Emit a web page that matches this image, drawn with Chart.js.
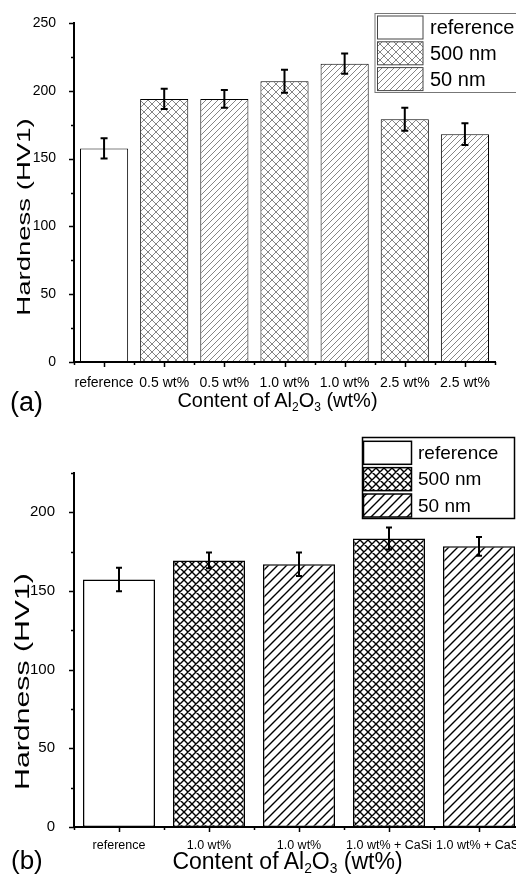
<!DOCTYPE html>
<html>
<head>
<meta charset="utf-8">
<script src="https://cdn.jsdelivr.net/npm/chart.js@4.4.1/dist/chart.umd.min.js"></script>
<style>
    body { margin: 0; width: 516px; height: 884px; overflow: hidden; position: relative; background: #fff; font-family: "Liberation Sans", Arial, sans-serif; }
    canvas { position: absolute; left: 0; }
    .lbl { position: absolute; line-height: 1; white-space: nowrap; color: #000; }
    .ytitle { width: 300px; text-align: center; }
    .xtitle { width: 400px; text-align: center; }
    .xtitle sub { font-size: 0.6em; vertical-align: -0.3em; line-height: 0; }
</style>
</head>
<body>
<canvas id="chartA" width="540" height="440" style="top:0px"></canvas>
<canvas id="chartB" width="560" height="464" style="top:420px"></canvas>

<div class="lbl ytitle" style="left:-126.5px; top:208px; font-size:18px; transform:rotate(-90deg) scaleX(1.53)">Hardness (HV1)</div>
<div class="lbl xtitle" style="left:77.5px; top:390px; font-size:20px">Content of Al<sub>2</sub>O<sub>3</sub> (wt%)</div>
<div class="lbl" style="left:10px; top:389px; font-size:27px">(a)</div>

<div class="lbl ytitle" style="left:-129.5px; top:670.5px; font-size:21px; transform:rotate(-90deg) scaleX(1.44)">Hardness (HV1)</div>
<div class="lbl xtitle" style="left:87.5px; top:850px; font-size:23px">Content of Al<sub>2</sub>O<sub>3</sub> (wt%)</div>
<div class="lbl" style="left:11px; top:847px; font-size:26px">(b)</div>

<script>
// Panel (a)
var labelsA = ['reference', '0.5 wt%', '0.5 wt%', '1.0 wt%', '1.0 wt%', '2.5 wt%', '2.5 wt%'];
var refA      = [157.5, null, null, null, null, null, null];
var nm500A    = [null, 194, null, 207, null, 179, null];
var nm50A     = [null, null, 194, null, 220, null, 168];
var refErrA   = [7.5, 0, 0, 0, 0, 0, 0];
var nm500ErrA = [0, 7.5, 0, 8.5, 0, 8.5, 0];
var nm50ErrA  = [0, 0, 6.5, 0, 7.5, 0, 8];
var yMaxA = 250;

// Panel (b)
var labelsB = ['reference', '1.0 wt%', '1.0 wt%', '1.0 wt% + CaSi', '1.0 wt% + CaSi'];
var refB      = [157.3, null, null, null, null];
var nm500B    = [null, 169.4, null, 183.3, null];
var nm50B     = [null, null, 167, null, 178.4];
var refErrB   = [7.5, 0, 0, 0, 0];
var nm500ErrB = [0, 5, 0, 7, 0];
var nm50ErrB  = [0, 0, 7.5, 0, 6];
var yMaxB = 225;

var seriesNames = ['reference', '500 nm', '50 nm'];
var yStep = 25;      // minor tick step
var yLabelStep = 50; // labelled ticks

Chart.defaults.font.family = '"Liberation Sans", Arial, sans-serif';
Chart.defaults.color = '#000';

// hatch fill: "/" lines, optionally crossed with "\" lines
function makeHatch(size, color, width, cross) {
    var c = document.createElement('canvas');
    c.width = size;
    c.height = size;
    var g = c.getContext('2d');
    g.fillStyle = '#fff';
    g.fillRect(0, 0, size, size);
    g.strokeStyle = color;
    g.lineWidth = width;
    g.beginPath();
    g.moveTo(0, size); g.lineTo(size, 0);
    g.moveTo(-2, 2); g.lineTo(2, -2);
    g.moveTo(size - 2, size + 2); g.lineTo(size + 2, size - 2);
    if (cross) {
        g.moveTo(0, 0); g.lineTo(size, size);
        g.moveTo(-2, size - 2); g.lineTo(2, size + 2);
        g.moveTo(size - 2, -2); g.lineTo(size + 2, 2);
    }
    g.stroke();
    return g.createPattern(c, 'repeat');
}

var errorBarPlugin = {
    id: 'errorBars',
    afterDatasetsDraw: function(chart, args, opts) {
        var ctx = chart.ctx;
        var yScale = chart.scales.y;
        ctx.save();
        ctx.strokeStyle = '#000';
        ctx.lineWidth = opts.width;
        chart.data.datasets.forEach(function(ds, i) {
            var meta = chart.getDatasetMeta(i);
            meta.data.forEach(function(bar, j) {
                var v = ds.data[j];
                if (v === null) return;
                var e = ds.errors[j];
                var top = yScale.getPixelForValue(v + e);
                var bot = yScale.getPixelForValue(v - e);
                ctx.beginPath();
                ctx.moveTo(bar.x, top); ctx.lineTo(bar.x, bot);
                ctx.moveTo(bar.x - opts.cap, top); ctx.lineTo(bar.x + opts.cap, top);
                ctx.moveTo(bar.x - opts.cap, bot); ctx.lineTo(bar.x + opts.cap, bot);
                ctx.stroke();
            });
        });
        ctx.restore();
    }
};

// outward major / minor tick marks on both axes
var axisTickPlugin = {
    id: 'axisTicks',
    afterDraw: function(chart, args, opts) {
        var ctx = chart.ctx;
        var xs = chart.scales.x, ys = chart.scales.y;
        var area = chart.chartArea;
        ctx.save();
        ctx.strokeStyle = '#000';
        ctx.lineWidth = opts.width;
        ctx.beginPath();
        ys.ticks.forEach(function(t) {
            var py = Math.round(ys.getPixelForValue(t.value)) + 0.5;
            var len = t.value % yLabelStep === 0 ? opts.major : opts.minor;
            ctx.moveTo(area.left - len, py);
            ctx.lineTo(area.left, py);
        });
        var n = xs.ticks.length;
        for (var i = 0; i < n; i++) {
            var px = Math.round(xs.getPixelForTick(i)) + 0.5;
            ctx.moveTo(px, area.bottom);
            ctx.lineTo(px, area.bottom + opts.major);
        }
        for (var k = 0; k <= n; k++) {
            var bx = Math.round(xs.getPixelForValue(k - 0.5)) + 0.5;
            ctx.moveTo(bx, area.bottom);
            ctx.lineTo(bx, area.bottom + opts.minor);
        }
        ctx.stroke();
        ctx.restore();
    }
};

// framed legend sitting inside the plot
var boxLegendPlugin = {
    id: 'boxLegend',
    afterDraw: function(chart, args, o) {
        var ctx = chart.ctx;
        ctx.save();
        ctx.fillStyle = '#fff';
        ctx.fillRect(o.x, o.y, o.w, o.h);
        ctx.lineWidth = o.frameWidth;
        ctx.strokeStyle = o.frameColor;
        ctx.strokeRect(o.x, o.y, o.w, o.h);
        chart.data.datasets.forEach(function(ds, i) {
            var ry = o.rowY + i * o.rowStep;
            ctx.fillStyle = ds.backgroundColor;
            ctx.fillRect(o.swX, ry, o.swW, o.swH);
            ctx.lineWidth = o.swBorder;
            ctx.strokeStyle = o.swColor;
            ctx.strokeRect(o.swX, ry, o.swW, o.swH);
            ctx.fillStyle = '#000';
            ctx.font = o.fontSize + 'px "Liberation Sans", Arial, sans-serif';
            ctx.textBaseline = 'middle';
            ctx.fillText(ds.label, o.textX, ry + o.swH / 2 + 1);
        });
        ctx.restore();
    }
};

function buildChart(id, cfg) {
    var ctx = document.getElementById(id).getContext('2d');
    var datasets = cfg.series.map(function(s, i) {
        return {
            label: seriesNames[i],
            data: s.data,
            errors: s.errors,
            backgroundColor: cfg.fills[i],
            borderColor: '#000',
            borderWidth: cfg.barBorder,
            borderSkipped: false
        };
    });
    return new Chart(ctx, {
        type: 'bar',
        data: { labels: cfg.labels, datasets: datasets },
        options: {
            responsive: false,
            animation: false,
            devicePixelRatio: 1,
            layout: { padding: cfg.padding },
            datasets: { bar: { grouped: false, categoryPercentage: 1, barPercentage: 0.8 } },
            scales: {
                x: {
                    grid: { display: false },
                    border: { display: true, color: '#000', width: 2 },
                    ticks: { color: '#000', font: { size: cfg.xFont }, padding: cfg.xPad, maxRotation: 0, autoSkip: false },
                    afterFit: function(s) { s.height = cfg.xHeight; }
                },
                y: {
                    min: 0,
                    max: cfg.yMax,
                    grid: { display: false },
                    border: { display: true, color: '#000', width: 2 },
                    ticks: {
                        stepSize: yStep,
                        color: '#000',
                        font: { size: cfg.yFont },
                        padding: cfg.yPad,
                        callback: function(v) { return v % yLabelStep === 0 ? v : ''; }
                    },
                    afterFit: function(s) { s.width = 74; }
                }
            },
            plugins: {
                legend: { display: false },
                tooltip: { enabled: false },
                errorBars: cfg.errorBars,
                axisTicks: { width: 1.5, major: 5, minor: 3 },
                boxLegend: cfg.legend
            }
        },
        plugins: [errorBarPlugin, axisTickPlugin, boxLegendPlugin]
    });
}

buildChart('chartA', {
    labels: labelsA,
    series: [
        { data: refA, errors: refErrA },
        { data: nm500A, errors: nm500ErrA },
        { data: nm50A, errors: nm50ErrA }
    ],
    fills: ['#fff', makeHatch(8, '#777', 0.9, true), makeHatch(6, '#777', 0.9, false)],
    barBorder: 1,
    yMax: yMaxA,
    padding: { top: 23, right: 45, bottom: 38, left: 0 },
    xHeight: 40, xFont: 14, xPad: 5,
    yFont: 14, yPad: 10,
    errorBars: { width: 2, cap: 3.5 },
    legend: {
        x: 375, y: 13.5, w: 150, h: 79,
        frameWidth: 1, frameColor: '#777',
        swX: 377.5, swW: 45.5, swH: 23, rowY: 16, rowStep: 25.8,
        swBorder: 1, swColor: '#444',
        textX: 430, fontSize: 20
    }
});

buildChart('chartB', {
    labels: labelsB,
    series: [
        { data: refB, errors: refErrB },
        { data: nm500B, errors: nm500ErrB },
        { data: nm50B, errors: nm50ErrB }
    ],
    fills: ['#fff', makeHatch(8, '#000', 1.4, true), makeHatch(9, '#000', 1.4, false)],
    barBorder: 1.5,
    yMax: yMaxB,
    padding: { top: 53, right: 36, bottom: 27, left: 0 },
    xHeight: 30, xFont: 12.5, xPad: 3,
    yFont: 15, yPad: 11,
    errorBars: { width: 2, cap: 3 },
    legend: {
        x: 362.5, y: 17.5, w: 152, h: 81,
        frameWidth: 1.5, frameColor: '#000',
        swX: 363.5, swW: 48, swH: 23, rowY: 21.3, rowStep: 26.35,
        swBorder: 1.5, swColor: '#000',
        textX: 418, fontSize: 19
    }
});
</script>
</body>
</html>
